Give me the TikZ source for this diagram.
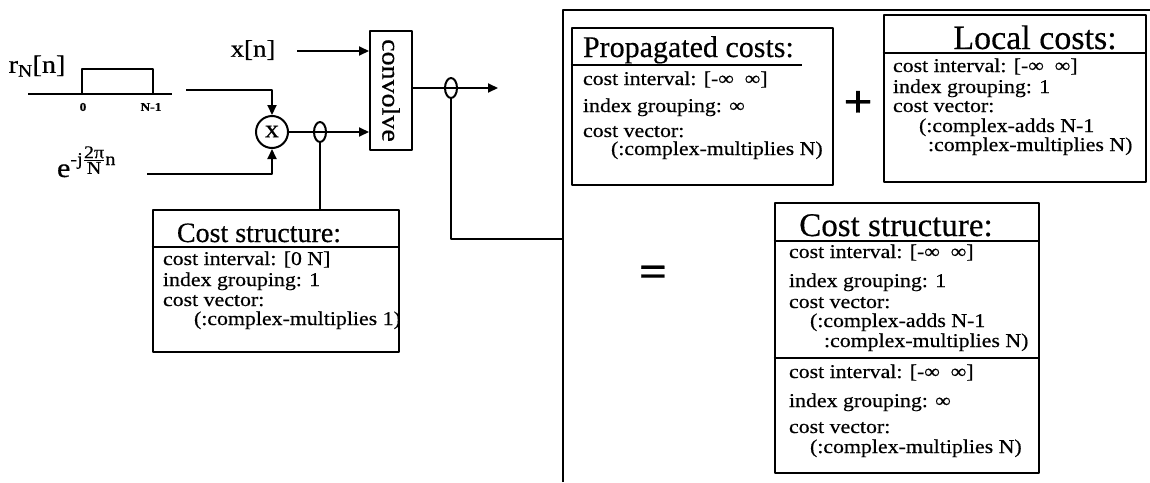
\documentclass[tikz,border=0pt]{standalone}
\usepackage{fontspec}
\usepackage{amsmath}
\setmainfont{Liberation Serif}[FakeStretch=1.12, FakeBold=0.5]
\newfontfamily\titlefont{Liberation Serif}[FakeBold=0.4]
\usetikzlibrary{arrows.meta,positioning,shapes.geometric}

\tikzset{
	costbox/.style={draw, line width=2.6pt, inner sep=0pt},
	costline/.style={anchor=base west, inner sep=0pt, font=\fontsize{19.5}{19.5}\selectfont},
	costtitle/.style={anchor=base, inner sep=0pt},
	tap/.style={draw, ellipse, minimum width=12pt, minimum height=20pt, inner sep=0pt},
	sig/.style={inner sep=0pt, font=\fontsize{24}{24}\selectfont}
}

\begin{document}
\begin{tikzpicture}[x=1pt, y=-1pt, line width=2pt, line join=round, >={Triangle[length=10pt,width=9pt]}]
	\useasboundingbox (0,0) rectangle (1150,482);
	\path (297,51) coordinate (xin)
	(186,90) coordinate (rin)
	(147,174) coordinate (ein)
	(498,88) coordinate (yout)
	(563,10) coordinate (brkTop)
	(563,482) coordinate (brkBot);
	% signal flow
	\node[draw, minimum width=42pt, minimum height=119pt, inner sep=0pt, font=\fontsize{25}{25}\selectfont] (conv) at (391,90.5) {\rotatebox{-90}{convolve}};
	\node[circle, draw, minimum size=32pt, inner sep=0pt, font=\fontsize{25}{25}\selectfont] (mult) at (272,132) {\raisebox{1pt}{x}};
	\node[sig] (xn) at (253,50) {x[n]};
	\node[sig, font=\fontsize{25}{25}\selectfont] (rN) at (37,66) {r\textsubscript{N}[n]};
	\node[sig, anchor=base west, font=\fontsize{27}{27}\selectfont] (expo) at (56,177) {e\raisebox{12pt}{\fontsize{18}{18}\selectfont -j$\genfrac{}{}{0.9pt}{}{\hbox{2π}}{\hbox{N}}$n}};
	\draw[->] (xin) -- (xin -| conv.west);
	\draw[->] (rin) -| (mult.north);
	\draw[->] (ein) -| (mult.south);
	\draw[->] (mult.east) -- (mult.east -| conv.west);
	\draw[->] (conv.east |- yout) -- (yout);
	\node[tap] (tapA) at (320,132) {};
	\node[tap] (tapB) at (451,88) {};
	% pulse
	\draw (28,94) -- (172,94) (82,94) |- (153,69) -- (153,94);
	\node[inner sep=0pt, font=\bfseries\fontsize{12}{12}\selectfont] (t0) at (83,107) {0};
	\node[inner sep=0pt, font=\bfseries\fontsize{12}{12}\selectfont] (tN) at (151,107) {N-1};
	% cost of the product
	\node[costbox, minimum width=246pt, minimum height=142pt] (csA) at (276,281) {};
	\draw[line width=1.6pt] (csA.west |- 0,247) -- (csA.east |- 0,247);
	\draw (tapA.south) -- (tapA.south |- csA.north);
	\node[costtitle, font=\titlefont\fontsize{28}{28}\selectfont] (csAt) at (259,242) {Cost structure:};
	\node[costline] (csA1) at (162,265) {cost interval: [0 N]};
	\node[costline] (csA2) at (162,286) {index grouping: 1};
	\node[costline] (csA3) at (162,306) {cost vector:};
	\node[costline] (csA4) at (193,325) {(:complex-multiplies 1)};
	% bracket
	\draw (tapB.south) |- (brkBot |- 0,239);
	\draw (brkBot) -- (brkTop) -- (1150,10);
	% propagated costs
	\node[costbox, minimum width=261pt, minimum height=157pt] (prop) at (702.5,106.5) {};
	\draw[line width=1.6pt] (prop.west |- 0,65) -- (802,65);
	\node[costtitle, anchor=base west, font=\titlefont\fontsize{30}{30}\selectfont] (propt) at (582,57) {Propagated costs:};
	\node[costline] (prop1) at (582,85) {cost interval: [-∞~~∞]};
	\node[costline] (prop2) at (582,112) {index grouping: ∞};
	\node[costline] (prop3) at (582,137) {cost vector:};
	\node[costline] (prop4) at (610,155) {(:complex-multiplies N)};
	\node[inner sep=0pt, font=\bfseries\fontsize{46}{46}\selectfont] (plus) at (858,104) {+};
	% local costs
	\node[costbox, minimum width=262pt, minimum height=167pt] (loc) at (1015,98.5) {};
	\draw[line width=1.6pt] (loc.west |- 0,53) -- (loc.east |- 0,53);
	\node[costtitle, font=\titlefont\fontsize{34}{34}\selectfont] (loct) at (1035,49) {Local costs:};
	\node[costline] (loc1) at (892,72) {cost interval: [-∞~~∞]};
	\node[costline] (loc2) at (892,93) {index grouping: 1};
	\node[costline] (loc3) at (892,112) {cost vector:};
	\node[costline] (loc4) at (918,132) {(:complex-adds N-1};
	\node[costline] (loc5) at (927,151) {:complex-multiplies N)};
	\node[inner sep=0pt, font=\bfseries\fontsize{44}{44}\selectfont] (equ) at (653,276) {=};
	% resulting cost structure
	\node[costbox, minimum width=264pt, minimum height=270pt] (csB) at (907,338) {};
	\draw[line width=1.6pt] (csB.west |- 0,241) -- (csB.east |- 0,241) (csB.west |- 0,358) -- (csB.east |- 0,358);
	\node[costtitle, font=\titlefont\fontsize{33}{33}\selectfont] (csBt) at (896,236) {Cost structure:};
	\node[costline] (csB1) at (788,258) {cost interval: [-∞~~∞]};
	\node[costline] (csB2) at (788,287) {index grouping: 1};
	\node[costline] (csB3) at (788,308) {cost vector:};
	\node[costline] (csB4) at (809,327) {(:complex-adds N-1};
	\node[costline] (csB5) at (823,347) {:complex-multiplies N)};
	\node[costline] (csB6) at (788,378) {cost interval: [-∞~~∞]};
	\node[costline] (csB7) at (788,407) {index grouping: ∞};
	\node[costline] (csB8) at (788,433) {cost vector:};
	\node[costline] (csB9) at (809,453) {(:complex-multiplies N)};
\end{tikzpicture}
\end{document}
